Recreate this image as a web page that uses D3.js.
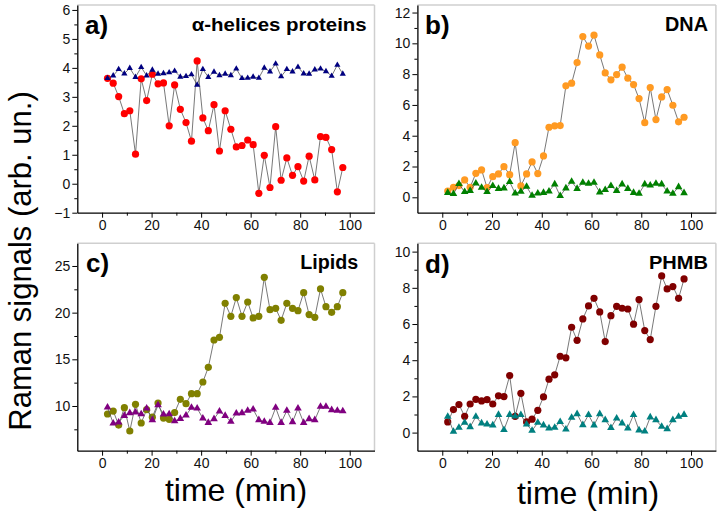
<!DOCTYPE html>
<html><head><meta charset="utf-8">
<script src="https://cdnjs.cloudflare.com/ajax/libs/d3/7.8.5/d3.min.js"></script>
<style>body{margin:0;background:#fff}svg{display:block}</style>
</head><body><svg id="chart" width="721" height="515"></svg>
<script>
// time points (min)
const times = [2.2, 4.5, 6.7, 9.0, 11.2, 13.5, 15.8, 18.0, 20.3, 22.6, 24.8, 27.1, 29.3, 31.6, 33.9, 36.1, 38.4, 40.7, 42.9, 45.2, 47.4, 49.7, 52.0, 54.2, 56.5, 58.8, 61.0, 63.3, 65.5, 67.8, 70.1, 72.3, 74.6, 76.9, 79.1, 81.4, 83.6, 85.9, 88.2, 90.4, 92.7, 95.0, 97.2];

// a) alpha-helices proteins
const alphaCircle = [3.64, 3.47, 3.01, 2.42, 2.52, 1.02, 3.62, 2.87, 3.78, 3.45, 3.48, 2.00, 3.41, 2.57, 2.11, 1.47, 4.24, 2.27, 1.83, 2.73, 1.13, 2.52, 1.88, 1.27, 1.32, 1.51, 1.35, -0.33, 0.98, -0.13, 1.97, 0.12, 0.89, 0.29, 0.59, 0.09, 0.95, 0.13, 1.63, 1.60, 1.18, -0.28, 0.56];
const alphaTri = [3.64, 3.73, 3.95, 3.80, 3.99, 3.68, 4.02, 3.73, 3.93, 3.79, 3.81, 3.84, 3.89, 3.69, 3.71, 3.77, 3.41, 3.95, 3.68, 3.86, 3.74, 3.79, 3.74, 3.97, 3.64, 3.65, 3.69, 3.65, 4.00, 3.87, 4.14, 3.70, 3.95, 3.87, 4.03, 3.80, 3.79, 3.94, 3.97, 3.88, 3.72, 4.10, 3.79];

// b) DNA
const dnaCircle = [0.41, 0.65, 0.76, 1.13, 0.65, 1.56, 1.78, 0.63, 1.34, 1.52, 1.99, 1.47, 3.55, 0.74, 1.52, 2.30, 1.54, 2.69, 4.55, 4.64, 4.66, 7.24, 7.41, 8.75, 10.44, 9.82, 10.53, 9.25, 8.08, 7.63, 7.97, 8.45, 7.74, 7.32, 6.41, 4.85, 7.13, 5.05, 6.52, 7.00, 5.98, 4.90, 5.20];
const dnaTri = [0.30, 0.22, 0.87, 0.35, 0.43, 0.91, 0.63, 0.35, 0.74, 0.56, 0.59, 1.00, 0.26, 0.37, 0.69, 0.11, 0.26, 0.30, 0.39, 0.85, 0.09, 0.59, 1.02, 0.56, 0.95, 0.89, 0.95, 0.33, 0.48, 0.74, 0.43, 0.85, 0.56, 0.30, 0.24, 0.85, 0.78, 0.89, 0.85, 0.39, 0.24, 0.67, 0.28];

// c) Lipids
const lipCircle = [9.14, 9.46, 7.96, 9.82, 7.32, 10.18, 8.18, 9.60, 8.80, 10.32, 8.71, 8.57, 9.29, 10.71, 10.25, 11.32, 11.32, 12.57, 14.14, 17.07, 17.36, 21.00, 19.61, 21.61, 19.61, 21.14, 19.43, 19.61, 23.79, 20.32, 20.46, 19.18, 21.00, 20.46, 20.21, 22.14, 19.79, 19.50, 22.54, 20.64, 20.04, 20.64, 22.14];
const lipTri = [9.86, 8.14, 8.25, 8.96, 9.25, 9.32, 9.14, 9.75, 8.50, 10.10, 9.10, 9.14, 8.39, 8.64, 9.00, 9.82, 9.75, 8.68, 8.21, 8.61, 9.43, 8.96, 8.32, 9.21, 9.25, 9.50, 9.64, 8.50, 8.32, 8.21, 9.82, 8.21, 9.50, 8.29, 9.75, 8.21, 8.61, 8.50, 9.93, 9.93, 9.57, 9.50, 9.46];

// d) PHMB
const phmbCircle = [0.59, 1.27, 1.55, 0.90, 1.58, 1.84, 1.75, 1.82, 1.58, 2.03, 1.99, 3.15, 0.90, 2.17, 0.59, 0.74, 1.23, 1.97, 2.95, 3.19, 4.22, 4.13, 5.82, 5.10, 6.28, 7.00, 7.42, 6.67, 5.03, 6.46, 6.98, 6.87, 6.83, 5.99, 7.35, 5.64, 5.14, 6.98, 8.66, 7.94, 8.07, 7.42, 8.49];
const phmbTri = [0.88, 0.06, 0.28, 0.55, 0.31, 0.88, 0.52, 0.46, 0.41, 0.99, 0.15, 0.99, 0.90, 0.98, 0.46, 0.11, 0.55, 0.41, 0.24, 0.28, 0.59, 0.18, 0.83, 1.03, 0.42, 0.98, 0.41, 1.03, 0.70, 0.26, 0.79, 0.52, 0.24, 0.98, 0.13, 0.07, 0.85, 0.70, 0.33, 0.20, 0.70, 0.88, 0.99];

// tick labels
const xTicks = [0, 20, 40, 60, 80, 100];
const xMinorTicks = [-10, 10, 30, 50, 70, 90, 110];
const yTicksA = [-1, 0, 1, 2, 3, 4, 5, 6];
const yTicksB = [0, 2, 4, 6, 8, 10, 12];
const yTicksC = [10, 15, 20, 25];
const yTicksD = [0, 2, 4, 6, 8, 10];

const panelLabels = ["a)", "b)", "c)", "d)"];
const panelTitles = ["\u03b1-helices proteins", "DNA", "Lipids", "PHMB"];
const xTitle = "time (min)";
const yTitle = "Raman signals (arb. un.)";

const FONT = "'Liberation Sans', Arial, Helvetica, sans-serif";
const svg = d3.select('#chart');
svg.append('rect').attr('width', 721).attr('height', 515).attr('fill', '#fff');

const panels = [
  {label: panelLabels[0], title: panelTitles[0], circ: alphaCircle, tri: alphaTri, cCol: '#ff0000', tCol: '#000080',
   xr: [77.3, 374.5], yr: [212.7, 5], yd: [-1, 6.17], yt: yTicksA, yMinor: [-0.5, 0.5, 1.5, 2.5, 3.5, 4.5, 5.5],
   labPos: [85, 34], titPos: [366.7, 31], titSize: 18, titLen: 175, triSize: 6.2},
  {label: panelLabels[1], title: panelTitles[1], circ: dnaCircle, tri: dnaTri, cCol: '#ff9a22', tCol: '#008000',
   xr: [417.4, 715.9], yr: [212.7, 5], yd: [-1, 12.49], yt: yTicksB, yMinor: [1, 3, 5, 7, 9, 11],
   labPos: [425, 34], titPos: [708, 31], titSize: 19.5, titLen: 43, triSize: 7.6},
  {label: panelLabels[2], title: panelTitles[2], circ: lipCircle, tri: lipTri, cCol: '#808000', tCol: '#800080',
   xr: [77.3, 374.5], yr: [450.7, 243.3], yd: [5.21, 27.43], yt: yTicksC, yMinor: [7.5, 12.5, 17.5, 22.5],
   labPos: [86, 272], titPos: [358.3, 269.3], titSize: 19.5, titLen: 58, triSize: 7.6},
  {label: panelLabels[3], title: panelTitles[3], circ: phmbCircle, tri: phmbTri, cCol: '#800000', tCol: '#008080',
   xr: [417.4, 715.9], yr: [450.7, 243.3], yd: [-1, 10.46], yt: yTicksD, yMinor: [1, 3, 5, 7, 9],
   labPos: [425, 273], titPos: [708, 268.5], titSize: 19, titLen: 59, triSize: 7.6}
];

panels.forEach(p => {
  const x = d3.scaleLinear().domain([-10, 110]).range(p.xr);
  const y = d3.scaleLinear().domain(p.yd).range(p.yr);
  const g = svg.append('g');

  // light frame (top / right)
  g.append('line').attr('x1', p.xr[0]).attr('x2', p.xr[1]).attr('y1', p.yr[1]).attr('y2', p.yr[1])
    .attr('stroke', '#cfcfcf').attr('stroke-width', 1.5);
  g.append('line').attr('x1', p.xr[1]).attr('x2', p.xr[1]).attr('y1', p.yr[0]).attr('y2', p.yr[1])
    .attr('stroke', '#cfcfcf').attr('stroke-width', 1.5);

  // x axis
  const xa = g.append('g').attr('transform', `translate(0,${p.yr[0]})`)
    .call(d3.axisBottom(x).tickValues(xTicks).tickSize(5).tickSizeOuter(0).tickPadding(2).tickFormat(d3.format('d')));
  g.append('g').attr('transform', `translate(0,${p.yr[0]})`)
    .call(d3.axisBottom(x).tickValues(xMinorTicks.filter(v => v > -10 && v < 110)).tickSize(3).tickSizeOuter(0).tickFormat(''))
    .select('.domain').remove();
  // y axis
  const ya = g.append('g').attr('transform', `translate(${p.xr[0]},0)`)
    .call(d3.axisLeft(y).tickValues(p.yt).tickSize(5).tickSizeOuter(0).tickPadding(2).tickFormat(d3.format('d')));
  g.append('g').attr('transform', `translate(${p.xr[0]},0)`)
    .call(d3.axisLeft(y).tickValues(p.yMinor).tickSize(3).tickSizeOuter(0).tickFormat(''))
    .select('.domain').remove();

  g.selectAll('.domain').attr('stroke', '#000').attr('stroke-width', 1.3);
  g.selectAll('.tick line').attr('stroke', '#000').attr('stroke-width', 1);
  g.selectAll('.tick text').attr('font-family', FONT).attr('font-size', 14).attr('fill', '#111');

  const line = d3.line().x((d, i) => x(times[i])).y(d => y(d));

  // circles series
  g.append('path').datum(p.circ).attr('d', line).attr('fill', 'none')
    .attr('stroke', '#555').attr('stroke-width', 0.8);
  g.selectAll('circle.c').data(p.circ).enter().append('circle')
    .attr('cx', (d, i) => x(times[i])).attr('cy', d => y(d)).attr('r', 3.6)
    .attr('fill', p.cCol);

  // triangle series
  g.append('path').datum(p.tri).attr('d', line).attr('fill', 'none')
    .attr('stroke', '#555').attr('stroke-width', 0.8);
  const area = Math.sqrt(3) / 4 * p.triSize * p.triSize;
  const sym = d3.symbol().type(d3.symbolTriangle).size(area);
  g.selectAll('path.t').data(p.tri).enter().append('path')
    .attr('d', sym)
    .attr('transform', (d, i) => `translate(${x(times[i])},${y(d)})`)
    .attr('fill', p.tCol);

  // labels
  g.append('text').attr('x', p.labPos[0]).attr('y', p.labPos[1]).text(p.label)
    .attr('font-family', FONT).attr('font-weight', 'bold').attr('font-size', 26).attr('fill', '#000');
  g.append('text').attr('x', p.titPos[0]).attr('y', p.titPos[1]).text(p.title)
    .attr('text-anchor', 'end').attr('font-family', FONT).attr('font-weight', 'bold')
    .attr('font-size', p.titSize).attr('textLength', p.titLen).attr('lengthAdjust', 'spacingAndGlyphs')
    .attr('fill', '#000');
});

// axis titles
svg.append('text').attr('x', 236).attr('y', 501).attr('text-anchor', 'middle')
  .attr('font-family', FONT).attr('font-size', 32).attr('fill', '#000').text(xTitle);
svg.append('text').attr('x', 588).attr('y', 504).attr('text-anchor', 'middle')
  .attr('font-family', FONT).attr('font-size', 32).attr('fill', '#000').text(xTitle);
svg.append('text').attr('transform', 'translate(31,261) rotate(-90)').attr('text-anchor', 'middle')
  .attr('font-family', FONT).attr('font-size', 31).attr('fill', '#000').text(yTitle);
</script>
</body></html>
